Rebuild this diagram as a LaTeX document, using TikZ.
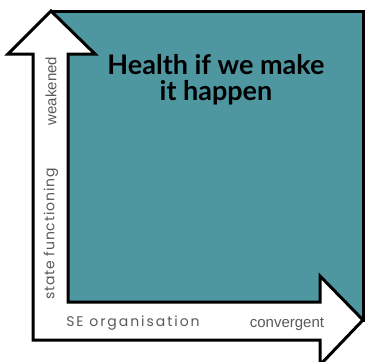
\documentclass[tikz,border=0pt]{standalone}
\usepackage{fontspec}
\setmainfont{Poppins}
\newfontfamily\titlefont{Lato}
\newfontfamily\arialfont{Liberation Sans}
\definecolor{quadteal}{RGB}{78,151,161}
\definecolor{axisgrey}{RGB}{90,90,90}
\tikzset{
  quadrant/.style={fill=quadteal,draw=black,line width=3pt},
  axisarrow/.style={fill=white,draw=black,line width=3pt,line join=miter},
  axislabel/.style={text=axisgrey,inner sep=0pt},
  roundlabel/.style={axislabel,font=\fontsize{14}{16}\selectfont},
  plainlabel/.style={axislabel,font=\arialfont\fontsize{15}{17}\selectfont},
  title/.style={font=\titlefont\bfseries\fontsize{27}{26}\selectfont,align=center,inner sep=0pt}
}
\begin{document}
\begin{tikzpicture}[x=1pt,y=-1pt]
      \useasboundingbox (0,0) rectangle (365,362);
      \draw[quadrant] (51,11) rectangle (363,320);
      \draw[axisarrow]
        (33,340) -- (33,54) -- (8,54) -- (51,11) -- (95,54) -- (68,54)
        -- (68,302) -- (320,302) -- (320,276) -- (363,320) -- (320,365)
        -- (320,340) -- cycle;
      \node[title] (health) at (216,80) {Health if we make\\it happen};
      \node[plainlabel,rotate=90] (weak) at (51,91) {weakened};
      \node[roundlabel,rotate=90] (state) at (51,234) {\addfontfeature{LetterSpace=6}state functioning};
      \node[roundlabel] (org) at (133,323) {\addfontfeature{LetterSpace=14}SE organisation};
      \node[plainlabel] (conv) at (287,324) {convergent};
    \end{tikzpicture}
\end{document}
